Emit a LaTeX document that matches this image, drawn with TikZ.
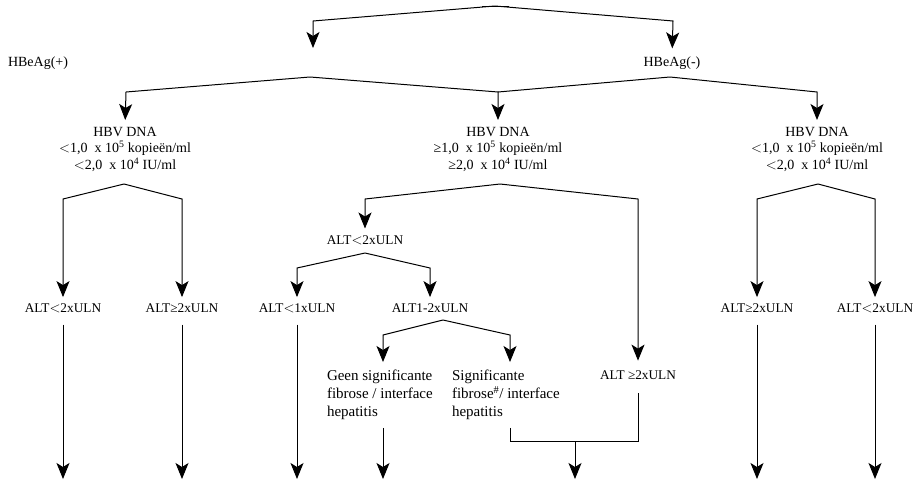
\documentclass[tikz,border=0pt]{standalone}
\usepackage{fontspec}
\setmainfont{Liberation Serif}
\usetikzlibrary{arrows.meta}
\begin{document}
\begin{tikzpicture}[x=1pt,y=-1pt,
  conn/.style={line width=1pt, line join=miter},
  arr/.style={conn, -{Stealth[length=16pt,width=13pt,inset=4pt]}},
  lbl/.style={inner sep=0pt, outer sep=0pt, font=\fontsize{14}{16.5}\selectfont},
  altlbl/.style={inner sep=0pt, outer sep=0pt, font=\fontsize{13.3}{15}\selectfont, text height=9pt, text depth=0pt, anchor=base},
  blk/.style={lbl, align=center, anchor=north},
  txt/.style={inner sep=0pt, outer sep=0pt, font=\fontsize{15}{18}\selectfont, align=left, anchor=north west},
  into/.style={shorten >=6.5pt},
  outof/.style={shorten <=12pt},
]
\useasboundingbox (0,0) rectangle (923,485);

% ---------- top level ----------
\coordinate (top) at (495,6);
\coordinate (topa) at (482,6);
\coordinate (topb) at (509,6);
\coordinate (tL) at (313,21);
\coordinate (tLtip) at (313,48);
\coordinate (tR) at (673,21);
\node[lbl, anchor=base] (hbeP) at (38,66.6) {HBeAg(+)};
\node[lbl, anchor=base, text height=9.2pt] (hbeN) at (672,66.6) {HBeAg(-)};
\draw[conn] (topa) -- (topb);
\draw[arr] (top) -- (tL) -- (tLtip);
\draw[arr, shorten >=9pt] (top) -- (tR) -- (hbeN.north);

% ---------- HBV DNA blocks ----------
\node[blk] (hbvL) at (125,127) {HBV DNA\\ $<$1,0\ \ x 10\textsuperscript{5} kopieën/ml\\ $<$2,0\ \ x 10\textsuperscript{4} IU/ml};
\node[blk] (hbvM) at (498,127) {HBV DNA\\ ≥1,0\ \ x 10\textsuperscript{5} kopieën/ml\\ ≥2,0\ \ x 10\textsuperscript{4} IU/ml};
\node[blk] (hbvR) at (817,127) {HBV DNA\\ $<$1,0\ \ x 10\textsuperscript{5} kopieën/ml\\ $<$2,0\ \ x 10\textsuperscript{4} IU/ml};

\coordinate (pkP) at (310,77);
\coordinate (pkN) at (670,77);
\coordinate (eL) at (126,92);
\coordinate (eM) at (498,92);
\coordinate (eR) at (817,92);
\draw[arr, shorten >=7pt] (pkP) -- (eL) -- (hbvL.north);
\draw[arr, shorten >=7pt] (pkP) -- (eM) -- (hbvM.north);
\draw[conn] (pkN) -- (eM);
\draw[arr, shorten >=7pt] (pkN) -- (eR) -- (hbvR.north);

% ---------- left branch ----------
\node[altlbl] (aL1) at (63,312.6) {ALT$<$2xULN};
\node[altlbl] (aL2) at (182,312.6) {ALT≥2xULN};
\coordinate (pkL) at (124,184);
\coordinate (cL1) at (63,199);
\coordinate (cL2) at (182,199);
\draw[arr, into] (pkL) -- (cL1) -- (aL1.north);
\draw[arr, into] (pkL) -- (cL2) -- (aL2.north);
\coordinate (bL1) at (63,479);
\coordinate (bL2) at (182,479);
\draw[arr, outof] (aL1.south) -- (bL1);
\draw[arr, outof] (aL2.south) -- (bL2);

% ---------- right branch ----------
\node[altlbl] (aR1) at (757,312.6) {ALT≥2xULN};
\node[altlbl] (aR2) at (875,312.6) {ALT$<$2xULN};
\coordinate (pkR) at (818,184);
\coordinate (cR1) at (757,199);
\coordinate (cR2) at (875,199);
\draw[arr, into] (pkR) -- (cR1) -- (aR1.north);
\draw[arr, into] (pkR) -- (cR2) -- (aR2.north);
\coordinate (bR1) at (757,479);
\coordinate (bR2) at (875,479);
\draw[arr, outof] (aR1.south) -- (bR1);
\draw[arr, outof] (aR2.south) -- (bR2);

% ---------- middle branch ----------
\node[altlbl] (aM1) at (365,244) {ALT$<$2xULN};
\node[altlbl] (aM2) at (638,379.6) {ALT ≥2xULN};
\coordinate (pkM) at (500,184);
\coordinate (cM1) at (365,199);
\coordinate (cM2) at (638,199);
\draw[arr, into] (pkM) -- (cM1) -- (aM1.north);
\draw[arr, shorten >=10pt] (pkM) -- (cM2) -- (aM2.north);

\node[altlbl] (aM11) at (297,312.6) {ALT$<$1xULN};
\node[altlbl] (aM12) at (430,312.6) {ALT1-2xULN};
\coordinate (pkM2) at (365,253);
\coordinate (cM11) at (297,268);
\coordinate (cM12) at (430,268);
\draw[arr, into] (pkM2) -- (cM11) -- (aM11.north);
\draw[arr, into] (pkM2) -- (cM12) -- (aM12.north);
\coordinate (bM11) at (297,479);
\draw[arr, outof] (aM11.south) -- (bM11);

\node[txt] (geen) at (327,370) {Geen significante\\ fibrose / interface\\ hepatitis};
\node[txt] (sig) at (452,370) {Significante\\ fibrose\textsuperscript{\#}/ interface\\ hepatitis};
\coordinate (pkM3) at (443,320);
\coordinate (cG) at (383,335);
\coordinate (cS) at (510,335);
\draw[arr, shorten >=8pt] (pkM3) -- (cG) -- (cG |- geen.north);
\draw[arr, shorten >=8pt] (pkM3) -- (cS) -- (cS |- sig.north);

\coordinate (bG) at (383,479);
\draw[arr, shorten <=8pt] (cG |- geen.south) -- (bG);

\coordinate (jS) at (510,441);
\coordinate (jA) at (638,441);
\coordinate (jM) at (575,441);
\coordinate (bM) at (575,479);
\draw[conn, shorten <=8pt, shorten >=13pt] (cS |- sig.south) -- (jS) -- (jA) -- (aM2.south);
\draw[arr] (jM) -- (bM);
\end{tikzpicture}
\end{document}
